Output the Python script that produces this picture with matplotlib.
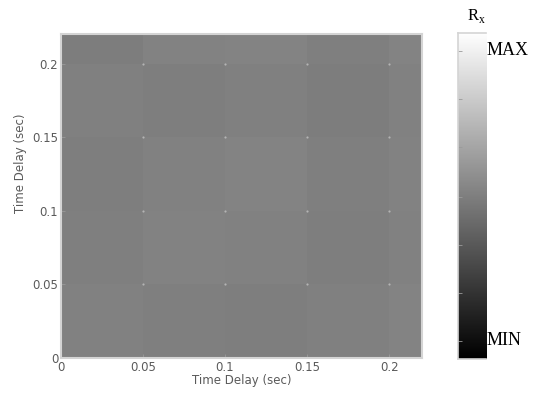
import numpy as np
import matplotlib
matplotlib.use('Agg')
import matplotlib.pyplot as plt

# Block edges of the delay map (sec)
x_edges = [0.0, 0.05, 0.1, 0.15, 0.2, 0.22]
y_edges = [0.0, 0.05, 0.1, 0.15, 0.2, 0.22]

# Normalised Rx level of each block (rows bottom -> top)
rx_blocks = np.array([
    [0.505, 0.497, 0.495, 0.503, 0.512],
    [0.498, 0.510, 0.504, 0.494, 0.507],
    [0.495, 0.505, 0.514, 0.499, 0.509],
    [0.502, 0.495, 0.500, 0.492, 0.505],
    [0.492, 0.509, 0.512, 0.497, 0.513],
])

# Block corners where a small spike shows
spike_x = [0.05, 0.1, 0.15, 0.2]
spike_y = [0.05, 0.1, 0.15, 0.2]

# Colorbar tick positions (fraction of range)
cbar_ticks = [0.055, 0.202, 0.35, 0.497, 0.65, 0.798, 0.945]

txt_col = '#5a5a5a'

fig = plt.figure(figsize=(5.42, 4.01), dpi=100)
ax = fig.add_axes([0.1125, 0.107, 0.666, 0.808])
ax.pcolormesh(x_edges, y_edges, rx_blocks, cmap='gray', vmin=0, vmax=1, shading='flat')
sx, sy = np.meshgrid(spike_x, spike_y)
ax.scatter(sx.ravel(), sy.ravel(), s=2.5, c='#b4b4b4', marker='o', linewidths=0, zorder=3)
ax.set_xlim(0, 0.22)
ax.set_ylim(0, 0.22)
ax.set_xticks([0, 0.05, 0.1, 0.15, 0.2])
ax.set_xticklabels(['0', '0.05', '0.1', '0.15', '0.2'])
ax.set_yticks([0, 0.05, 0.1, 0.15, 0.2])
ax.set_yticklabels(['0', '0.05', '0.1', '0.15', '0.2'])
ax.tick_params(direction='in', length=3, width=0.6, color='#9a9a9a',
               labelsize=8.5, labelcolor=txt_col, pad=2)
for s in ax.spines.values():
    s.set_color('#d4d4d4')
    s.set_linewidth(1.5)
ax.set_xlabel('Time Delay (sec)', fontsize=8.5, color=txt_col, labelpad=0)
ax.set_ylabel('Time Delay (sec)', fontsize=8.5, color=txt_col)
ax.yaxis.set_label_coords(-0.095, 0.6)

# Colorbar
cax = fig.add_axes([0.845, 0.105, 0.052, 0.813])
grad = np.linspace(0, 1, 256).reshape(-1, 1)
cax.imshow(grad, cmap='gray', vmin=0, vmax=1, aspect='auto', origin='lower',
           extent=[0, 1, 0, 1])
cax.set_xlim(0, 1)
cax.set_ylim(0, 1)
cax.set_xticks([])
cax.set_yticks(cbar_ticks)
cax.set_yticklabels([])
cax.tick_params(axis='y', direction='in', length=3, width=0.6, color='#9a9a9a')
for s in cax.spines.values():
    s.set_color('#d4d4d4')
    s.set_linewidth(1.2)
cax.spines['right'].set_visible(False)

fig.text(0.897, 0.873, 'MAX', fontsize=13, family='Liberation Serif', va='center', ha='left')
fig.text(0.897, 0.152, 'MIN', fontsize=13, family='Liberation Serif', va='center', ha='left')
fig.text(0.862, 0.96, r'R$_\mathregular{x}$', fontsize=12, family='Liberation Serif',
         va='center', ha='left')

fig.savefig('out.png', dpi=100)
